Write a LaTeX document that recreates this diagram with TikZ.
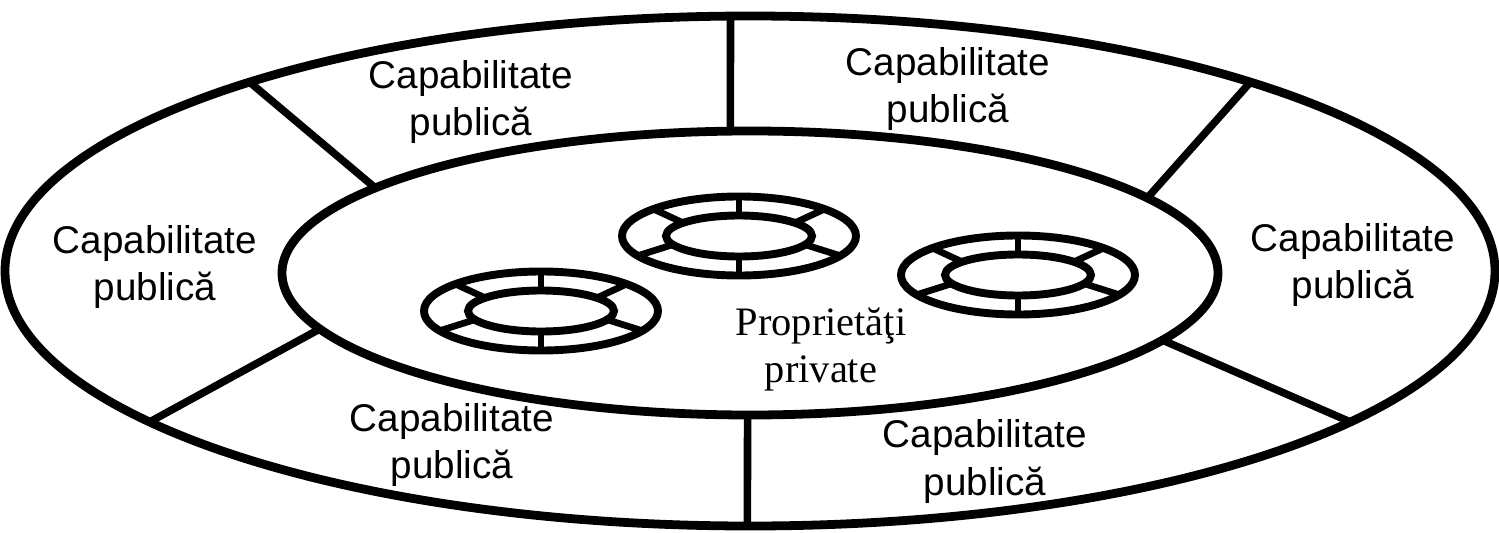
\documentclass[tikz,border=0pt]{standalone}
\usepackage{fontspec}
\setmainfont{Liberation Sans}
\newfontfamily\timesfont{Liberation Serif}
\usepackage{tikz}
\usetikzlibrary{calc}

\tikzset{
  rim/.style={line width=5pt},
  wall/.style={line width=4.3pt},
  ringline/.style={line width=4.5pt},
  spoke/.style={line width=3.8pt},
  captext/.style={align=center, font=\fontsize{22}{27}\selectfont, inner sep=0pt},
  privtext/.style={align=center, font=\timesfont\fontsize{23}{27}\selectfont, inner sep=0pt}
}

\begin{document}
\begin{tikzpicture}[x=0.02cm, y=0.02cm]
\useasboundingbox (0,0) rectangle (1499,532);

% centres
\coordinate (outer) at (750,261);
\coordinate (inner) at (750,259);
\coordinate (ringL) at (541,221);
\coordinate (ringM) at (739,296);
\coordinate (ringR) at (1018,257);

% big ellipses
\draw[rim] (outer) ellipse (745 and 255);
\draw[rim] (inner) ellipse (468 and 142);

% walls
\draw[wall] ($(outer)+(91.5:745 and 255)$)  -- ($(inner)+(92.4:468 and 142)$);
\draw[wall] ($(outer)+(132.2:745 and 255)$) -- ($(inner)+(143.2:468 and 142)$);
\draw[wall] ($(outer)+(47.8:745 and 255)$)  -- ($(inner)+(31.9:468 and 142)$);
\draw[wall] ($(outer)+(216.3:745 and 255)$) -- ($(inner)+(203.2:468 and 142)$);
\draw[wall] ($(outer)+(323.7:745 and 255)$) -- ($(inner)+(331.8:468 and 142)$);
\draw[wall] ($(outer)+(269.8:745 and 255)$) -- ($(inner)+(269.7:468 and 142)$);

% small rings
\foreach \r in {ringL,ringM,ringR}{
  \draw[ringline] (\r) ellipse (117 and 39.5);
  \draw[ringline] (\r) ellipse (73 and 20.5);
  \foreach \a/\b in {90/90, 270/270, 137/140, 43/40, 210/205, 330/335}
    \draw[spoke] ($(\r)+(\a:117 and 39.5)$) -- ($(\r)+(\b:73 and 20.5)$);
}

% labels
\node[captext] (capTL) at (471,430)  {Capabilitate\\publică};
\node[captext] (capTR) at (948,443)  {Capabilitate\\publică};
\node[captext] (capL)  at (155,265)  {Capabilitate\\publică};
\node[captext] (capR)  at (1353,267) {Capabilitate\\publică};
\node[captext] (capBL) at (452,87)   {Capabilitate\\publică};
\node[captext] (capBR) at (985,70.5) {Capabilitate\\publică};

\node[privtext] (priv) at (821,182.5) {Proprietăţi\\private};
\end{tikzpicture}
\end{document}
